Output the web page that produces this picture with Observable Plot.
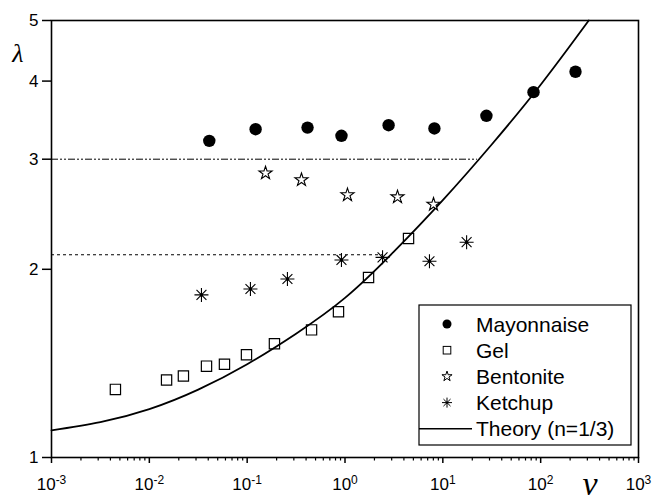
<!DOCTYPE html>
<html><head><meta charset="utf-8">
<script src="https://cdn.jsdelivr.net/npm/d3@7"></script>
<script src="https://cdn.jsdelivr.net/npm/@observablehq/plot@0.6"></script>
<style>
body{margin:0;background:#fff}
#chart{position:relative;width:653px;height:504px}
</style>
</head><body><div id="chart"></div>
<script>
// ---- data ----
const mayoNu  = [0.041, 0.122, 0.414, 0.92, 2.79, 8.2, 27.9, 84.5, 227];
const mayoLam = [3.21, 3.35, 3.37, 3.27, 3.40, 3.36, 3.52, 3.84, 4.14];
const gelNu   = [0.0045, 0.015, 0.0223, 0.0384, 0.0586, 0.0984, 0.19, 0.455, 0.858, 1.74, 4.46];
const gelLam  = [1.285, 1.33, 1.35, 1.40, 1.41, 1.46, 1.52, 1.60, 1.71, 1.94, 2.24];
const bentNu  = [0.154, 0.359, 1.06, 3.44, 8.03];
const bentLam = [2.85, 2.78, 2.63, 2.61, 2.54];
const ketNu   = [0.0341, 0.108, 0.258, 0.92, 2.42, 7.3, 17.5];
const ketLam  = [1.82, 1.86, 1.93, 2.07, 2.09, 2.06, 2.21];
const theoryNu  = [0.001, 0.00316, 0.01, 0.0316, 0.1, 0.316, 1, 3.16, 10, 31.6, 100, 310];
const theoryLam = [1.105, 1.139, 1.195, 1.284, 1.41, 1.578, 1.80, 2.134, 2.58, 3.167, 3.947, 5.0];
const refLevel = [3.0, 2.11];
const refFrom  = [0.001, 0.001];
const refTo    = [22.6, 2.45];
const xTickExp = [-3, -2, -1, 0, 1, 2, 3];
const yTicks   = [1, 2, 3, 4, 5];
const legendLabels = ["Mayonnaise", "Gel", "Bentonite", "Ketchup", "Theory (n=1/3)"];

// ---- build tables ----
const zip = (xs, ys) => xs.map((x, i) => ({nu: x, lam: ys[i]}));
const mayo = zip(mayoNu, mayoLam);
const gel = zip(gelNu, gelLam);
const bent = zip(bentNu, bentLam);
const ket = zip(ketNu, ketLam);
const theory = zip(theoryNu, theoryLam);
const refs = refLevel.map((l, i) => ({lam: l, from: refFrom[i], to: refTo[i]}));
const xMajor = xTickExp.map(e => Math.pow(10, e));
const xMinor = [];
for (let e = -3; e < 3; e++) for (let k = 2; k <= 9; k++) xMinor.push(k * Math.pow(10, e));

const asterisk = {
  draw(ctx, size) {
    const r = Math.sqrt(size / Math.PI);
    for (let i = 0; i < 4; i++) {
      const a = i * Math.PI / 4;
      ctx.moveTo(r * Math.cos(a), r * Math.sin(a));
      ctx.lineTo(-r * Math.cos(a), -r * Math.sin(a));
    }
  }
};

const chart = Plot.plot({
  width: 653, height: 504,
  marginLeft: 51, marginRight: 15, marginTop: 20, marginBottom: 47,
  style: {fontFamily: "'Liberation Sans', Arial, sans-serif", fontSize: "17px", color: "black", background: "white"},
  x: {type: "log", domain: [1e-3, 1e3]},
  y: {type: "log", domain: [1, 5]},
  marks: [
    Plot.axisX({ticks: xMinor, tickFormat: () => "", tickSize: 3.5, label: null, strokeWidth: 1.2}),
    Plot.axisX({ticks: xMajor, tickFormat: d => "10^" + Math.round(Math.log10(d)), tickSize: 6, tickPadding: 14, label: null, strokeWidth: 1.5}),
    Plot.axisY({ticks: yTicks, tickFormat: d => String(d), tickSize: 9, tickPadding: 4, label: null, strokeWidth: 1.5}),
    Plot.ruleY(refs.slice(0, 1), {y: "lam", x1: "from", x2: "to", stroke: "black", strokeWidth: 1, strokeDasharray: "7,2,2,2,2,2"}),
    Plot.ruleY(refs.slice(1), {y: "lam", x1: "from", x2: "to", stroke: "black", strokeWidth: 1, strokeDasharray: "3,3"}),
    Plot.line(theory, {x: "nu", y: "lam", curve: "natural", stroke: "black", strokeWidth: 1.8}),
    Plot.dot(mayo, {x: "nu", y: "lam", r: 6.2, fill: "black", stroke: "none"}),
    Plot.dot(gel, {x: "nu", y: "lam", symbol: "square", r: 5.8, fill: "none", stroke: "black", strokeWidth: 1.2}),
    Plot.dot(bent, {x: "nu", y: "lam", symbol: "star", r: 4.1, fill: "white", stroke: "black", strokeWidth: 1.1}),
    Plot.dot(ket, {x: "nu", y: "lam", symbol: asterisk, r: 7, fill: "none", stroke: "black", strokeWidth: 1.1}),
    Plot.dot(ket, {x: "nu", y: "lam", r: 1.7, fill: "black", stroke: "none"}),
    Plot.frame({stroke: "black", strokeWidth: 1.6})
  ]
});
document.getElementById("chart").appendChild(chart);

const svg = d3.select(chart);
// tick labels: size and superscript exponents
svg.selectAll("text").each(function() {
  this.style.fontSize = "17px";
  this.style.fontFamily = "'Liberation Sans', Arial, sans-serif";
  const m = /^10\^(-?\d+)$/.exec(this.textContent);
  if (m) {
    this.textContent = "10";
    d3.select(this).append("tspan").attr("dy", "-0.5em").style("font-size", "12px").text(m[1]);
  }
});

// axis symbols
svg.append("text").attr("x", 18).attr("y", 62).attr("text-anchor", "middle")
  .attr("font-family", "'Liberation Serif', 'DejaVu Serif', serif").attr("font-style", "italic")
  .style("font-size", "26px").attr("fill", "black").text("λ");
svg.append("text").attr("x", 590).attr("y", 495).attr("text-anchor", "middle")
  .attr("font-family", "'Liberation Serif', 'DejaVu Serif', serif").attr("font-style", "italic")
  .style("font-size", "34px").attr("fill", "black").text("ν");

// legend
const lg = svg.append("g").attr("font-family", "'Liberation Sans', Arial, sans-serif")
  .style("font-size", "21px").attr("text-anchor", "start");
lg.append("rect").attr("x", 419).attr("y", 305).attr("width", 212).attr("height", 140)
  .attr("fill", "white").attr("stroke", "black").attr("stroke-width", 1.2);
const rowY = i => 324 + i * 26.2;
const symX = 447;
lg.append("circle").attr("cx", symX).attr("cy", rowY(0)).attr("r", 4.5).attr("fill", "black");
lg.append("rect").attr("x", symX - 3.8).attr("y", rowY(1) - 3.8).attr("width", 7.6).attr("height", 7.6)
  .attr("fill", "none").attr("stroke", "black").attr("stroke-width", 1);
lg.append("path").attr("transform", `translate(${symX},${rowY(2)})`)
  .attr("d", d3.symbol(d3.symbolStar, 32)()).attr("fill", "none").attr("stroke", "black").attr("stroke-width", 1);
lg.append("path").attr("transform", `translate(${symX},${rowY(3)})`)
  .attr("d", d3.symbol(asterisk, Math.PI * 25)()).attr("fill", "none").attr("stroke", "black").attr("stroke-width", 1);
lg.append("circle").attr("cx", symX).attr("cy", rowY(3)).attr("r", 1.2).attr("fill", "black");
lg.append("line").attr("x1", 419).attr("x2", 472).attr("y1", rowY(4)).attr("y2", rowY(4))
  .attr("stroke", "black").attr("stroke-width", 1.6);
legendLabels.forEach((t, i) => {
  lg.append("text").attr("x", 476).attr("y", rowY(i)).attr("dy", "0.36em")
    .attr("text-anchor", "start").attr("fill", "black").style("font-size", "21px").text(t);
});
</script>
</body></html>
